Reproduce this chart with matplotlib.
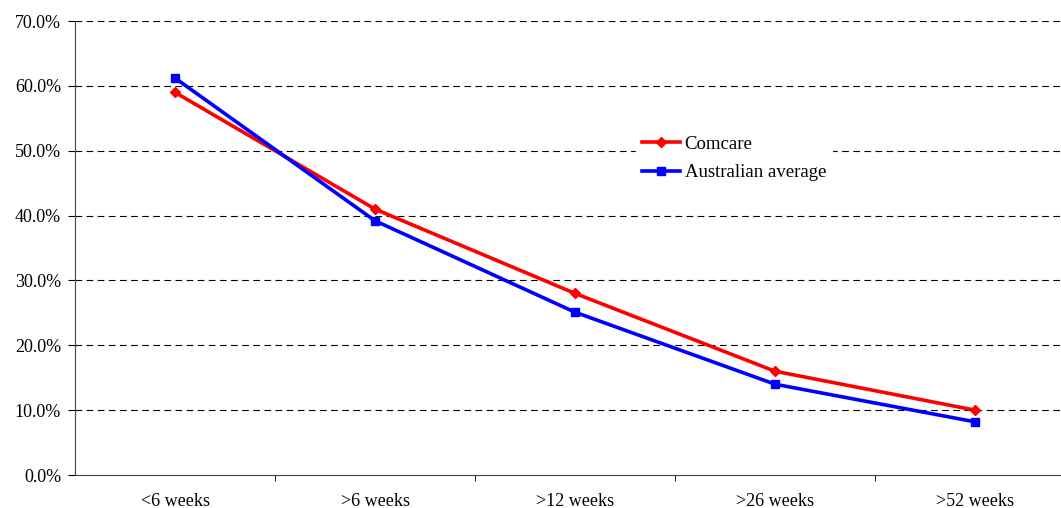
import numpy as np
import matplotlib.pyplot as plt
from matplotlib.ticker import PercentFormatter

categories = ['<6 weeks', '>6 weeks', '>12 weeks', '>26 weeks', '>52 weeks']
comcare = [59.0, 41.0, 28.0, 16.0, 10.0]
aus_avg = [61.2, 39.2, 25.1, 14.0, 8.2]

plt.rcParams['font.family'] = ['Liberation Serif', 'DejaVu Serif']
plt.rcParams['font.size'] = 13

fig = plt.figure(figsize=(10.61, 5.08), dpi=100)
ax = fig.add_axes([75 / 1061, 1 - 475 / 508, 1000 / 1061, 454 / 508])

x = np.arange(len(categories))
ax.plot(x, comcare, color='#ff0000', lw=2.6, marker='D', ms=5, label='Comcare', zorder=3)
ax.plot(x, aus_avg, color='#0000ff', lw=2.6, marker='s', ms=5.5, label='Australian average', zorder=3)

ax.set_xlim(-0.5, 4.5)
ax.set_ylim(0, 70)
ax.set_yticks(np.arange(0, 71, 10))
ax.yaxis.set_major_formatter(PercentFormatter(decimals=1))
ax.set_xticks(x)
ax.set_xticklabels(categories)
ax.set_xticks(np.arange(0.5, 4.5, 1), minor=True)
ax.tick_params(axis='x', which='major', length=0, pad=13)
ax.tick_params(axis='x', which='minor', length=4, direction='out')
ax.tick_params(axis='y', length=5, direction='out', pad=5)

for v in np.arange(10, 71, 10):
    ax.axhline(v, color='black', lw=0.8, ls=(0, (6, 4)), zorder=1)

for s in ['top', 'right']:
    ax.spines[s].set_visible(False)
ax.spines['left'].set_color('#444444')
ax.spines['bottom'].set_color('#444444')

leg = ax.legend(loc='upper left', bbox_to_anchor=(0.552, 0.78), frameon=True,
                fancybox=False, edgecolor='white', framealpha=1,
                handlelength=2.0, handletextpad=0.27, labelspacing=0.6,
                fontsize=13.5, borderpad=0.3)

fig.savefig('out.png', dpi=100)
